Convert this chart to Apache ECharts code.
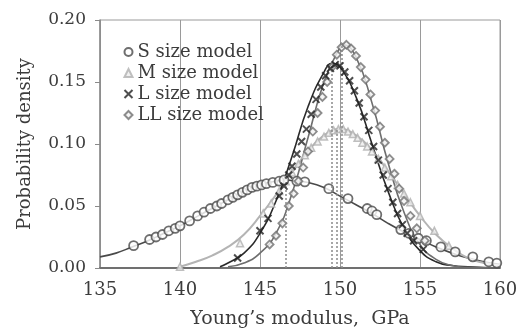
<!DOCTYPE html>
<html>
<head>
<meta charset="utf-8">
<script src="https://cdn.jsdelivr.net/npm/echarts@6/dist/echarts.min.js"></script>
<style>
  html, body { margin: 0; padding: 0; background: #fff; }
  #chart { width: 524px; height: 334px; }
</style>
</head>
<body>
<div id="chart"></div>
<script>
// x ticks (GPa)
const xTicks = [135, 140, 145, 150, 155, 160];

// fitted curves [modulus, density]
const sCurve = [[135,0.009],[136,0.012],[137,0.017],[138,0.022],[139,0.028],[140,0.034],[141,0.041],[142,0.048],[143,0.055],[144,0.062],[145,0.067],[146,0.070],[146.7,0.071],[147,0.0705],[148,0.069],[149,0.065],[150,0.058],[151,0.051],[152,0.044],[153,0.036],[154,0.029],[155,0.023],[156,0.017],[157,0.012],[158,0.008],[159,0.005],[160,0.003]];
const mCurve = [[140,0.001],[141,0.005],[142,0.010],[143,0.017],[144,0.027],[145,0.042],[146,0.059],[147,0.077],[148,0.094],[149,0.107],[150,0.112],[151,0.107],[152,0.095],[153,0.078],[154,0.060],[155,0.042],[156,0.027],[157,0.016],[158,0.008],[159,0.004],[160,0.002]];
const lCurve = [[142.5,0.001],[143,0.004],[144,0.012],[145,0.028],[146,0.054],[147,0.090],[148,0.130],[149,0.158],[149.5,0.165],[150,0.162],[151,0.138],[152,0.100],[153,0.062],[154,0.032],[155,0.014],[156,0.005],[157,0.002],[158,0.001],[160,0.000]];
const llCurve = [[143,0.001],[144,0.004],[145,0.012],[146,0.028],[147,0.060],[148,0.105],[149,0.150],[150,0.178],[150.2,0.180],[151,0.170],[152,0.133],[153,0.085],[154,0.045],[155,0.019],[156,0.007],[157,0.002],[158,0.0005],[160,0.000]];

// measured points
const sPts = [[137.1,0.018],[138.1,0.023],[138.5,0.025],[138.9,0.027],[139.3,0.030],[139.7,0.032],[140.0,0.034],[140.6,0.038],[141.1,0.042],[141.5,0.045],[141.9,0.048],[142.3,0.050],[142.6,0.052],[143.0,0.055],[143.3,0.057],[143.6,0.059],[143.9,0.061],[144.2,0.063],[144.5,0.065],[144.8,0.066],[145.1,0.067],[145.4,0.068],[145.8,0.069],[146.2,0.070],[146.5,0.071],[147.3,0.070],[147.8,0.0695],[149.3,0.064],[150.5,0.056],[151.7,0.048],[152.0,0.046],[152.3,0.043],[153.8,0.031],[154.3,0.028],[154.9,0.024],[155.4,0.022],[156.3,0.017],[157.2,0.013],[158.3,0.009],[159.3,0.005],[159.8,0.004]];
const mPts = [[140.0,0.001],[143.75,0.020],[145.2,0.044],[145.7,0.052],[146.2,0.062],[146.6,0.070],[147.0,0.077],[147.4,0.084],[147.8,0.091],[148.2,0.097],[148.6,0.102],[149.0,0.106],[149.3,0.109],[149.6,0.111],[149.9,0.112],[150.2,0.112],[150.5,0.110],[150.8,0.108],[151.1,0.105],[151.4,0.101],[151.7,0.098],[152.0,0.094],[152.4,0.088],[152.8,0.081],[153.2,0.074],[153.6,0.067],[154.0,0.060],[154.4,0.053],[155.0,0.042],[155.9,0.030],[156.8,0.018]];
const lPts = [[143.6,0.008],[145.0,0.030],[145.5,0.040],[146.2,0.058],[146.5,0.066],[146.8,0.075],[147.0,0.082],[147.3,0.092],[147.6,0.102],[147.9,0.112],[148.2,0.124],[148.5,0.136],[148.8,0.146],[149.1,0.155],[149.4,0.161],[149.7,0.164],[150.0,0.163],[150.3,0.158],[150.6,0.151],[150.9,0.143],[151.2,0.133],[151.5,0.122],[151.8,0.111],[152.1,0.098],[152.4,0.087],[152.7,0.075],[153.0,0.064],[153.3,0.053],[153.6,0.044],[153.9,0.035],[154.2,0.028],[154.6,0.022],[155.2,0.015]];
const llPts = [[145.6,0.019],[146.0,0.026],[146.4,0.036],[146.8,0.050],[147.1,0.060],[147.4,0.070],[147.7,0.081],[148.0,0.094],[148.3,0.110],[148.6,0.125],[148.9,0.138],[149.2,0.150],[149.5,0.162],[149.8,0.172],[150.1,0.178],[150.4,0.180],[150.7,0.177],[151.0,0.171],[151.3,0.162],[151.6,0.152],[151.9,0.140],[152.2,0.127],[152.5,0.114],[152.8,0.101],[153.1,0.088],[153.4,0.076],[153.7,0.064],[154.0,0.054],[154.4,0.042],[154.8,0.032],[155.3,0.022]];

// mean lines (x) and their heights
const meanX = [146.6, 149.8, 149.5, 150.1];
const meanTop = [0.071, 0.112, 0.165, 0.180];

const names = ['S size model', 'M size model', 'L size model', 'LL size model'];
const lineColors = ['#4a4a4a', '#b4b4b4', '#2a2a2a', '#6e6e6e'];
const crossPath = 'path://M0,0L10,10M10,0L0,10';

const chart = echarts.init(document.getElementById('chart'));
const font = 'DejaVu Serif';
const textColor = '#3c3c3c';

function fitLine(data, i) {
  return {
    type: 'line',
    data: data,
    smooth: true,
    showSymbol: false,
    silent: true,
    z: 2,
    lineStyle: { color: lineColors[i], width: i === 1 ? 2 : 1.6 },
    markLine: {
      silent: true,
      symbol: 'none',
      label: { show: false },
      lineStyle: { color: '#8a8a8a', type: [2, 2], width: 1.5 },
      data: [[{ coord: [meanX[i], 0] }, { coord: [meanX[i], meanTop[i]] }]]
    }
  };
}

const option = {
  backgroundColor: '#fff',
  animation: false,
  grid: {
    left: 100, right: 24, top: 20, bottom: 64,
    show: true, borderColor: '#9a9a9a', borderWidth: 1
  },
  legend: {
    orient: 'vertical',
    left: 117, top: 38,
    itemWidth: 8, itemHeight: 8, itemGap: 3,
    data: names,
    textStyle: { fontFamily: font, fontSize: 18, color: textColor }
  },
  xAxis: {
    type: 'value',
    min: xTicks[0], max: xTicks[xTicks.length - 1], interval: 5,
    name: 'Young\u2019s modulus,  GPa',
    nameLocation: 'middle', nameGap: 42,
    nameTextStyle: { fontFamily: font, fontSize: 19, color: textColor },
    axisLine: { lineStyle: { color: '#707070', width: 2 } },
    axisTick: { show: false },
    axisLabel: { fontFamily: font, fontSize: 18, color: textColor, margin: 13 },
    splitLine: { show: true, lineStyle: { color: '#9a9a9a', width: 1 } }
  },
  yAxis: {
    type: 'value',
    min: 0, max: 0.2, interval: 0.05,
    name: 'Probability density',
    nameLocation: 'middle', nameGap: 66,
    nameTextStyle: { fontFamily: font, fontSize: 18, color: textColor },
    axisLine: { show: true, lineStyle: { color: '#8a8a8a', width: 1.5 } },
    axisTick: { show: true, length: 5, lineStyle: { color: '#8a8a8a' } },
    axisLabel: { fontFamily: font, fontSize: 17, color: textColor, margin: 14,
      formatter: v => v.toFixed(2) },
    splitLine: { show: false }
  },
  series: [
    fitLine(sCurve, 0),
    fitLine(mCurve, 1),
    fitLine(lCurve, 2),
    fitLine(llCurve, 3),
    {
      name: names[1], type: 'scatter', data: mPts, z: 3,
      symbol: 'triangle', symbolSize: 7,
      itemStyle: { color: '#ececec', borderColor: '#b0b0b0', borderWidth: 1.5 }
    },
    {
      name: names[0], type: 'scatter', data: sPts, z: 4,
      symbol: 'circle', symbolSize: 9,
      itemStyle: { color: '#fff', borderColor: '#4a4a4a', borderWidth: 1.8 }
    },
    {
      name: names[3], type: 'scatter', data: llPts, z: 4,
      symbol: 'diamond', symbolSize: 8,
      itemStyle: { color: '#f2f2f2', borderColor: '#707070', borderWidth: 1.8 }
    },
    {
      name: names[2], type: 'scatter', data: lPts, z: 5,
      symbol: crossPath, symbolSize: 7,
      itemStyle: { color: 'none', borderColor: '#222', borderWidth: 2 }
    }
  ]
};

chart.setOption(option);
</script>
</body>
</html>
